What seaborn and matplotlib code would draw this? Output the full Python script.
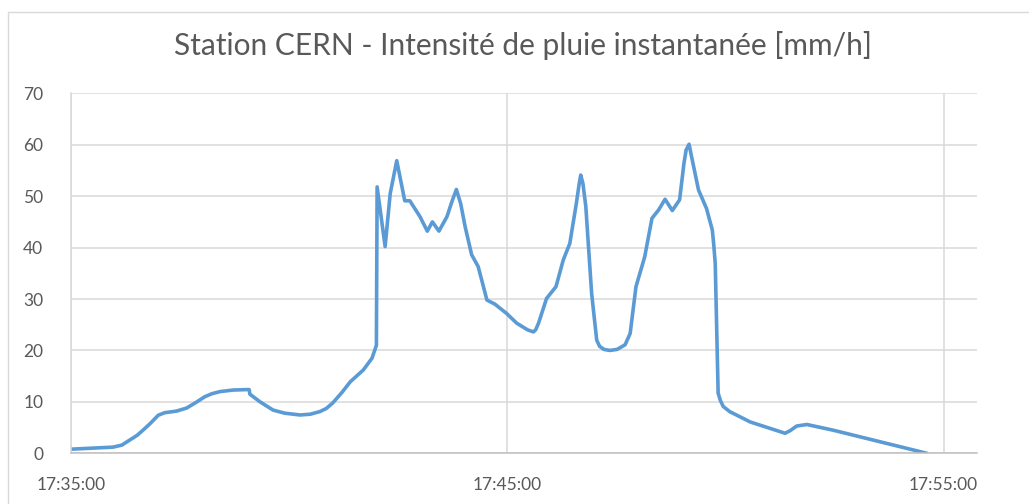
import matplotlib
matplotlib.use("Agg")
import matplotlib.pyplot as plt
import matplotlib.dates as mdates
from matplotlib.patches import Rectangle
import pandas as pd
import seaborn as sns

# Rain gauge readings, CERN station
times = [
    "17:35:00", "17:35:58", "17:36:10", "17:36:21", "17:36:31", "17:36:39",
    "17:36:49", "17:37:00", "17:37:09", "17:37:25", "17:37:39", "17:37:52",
    "17:38:04", "17:38:14", "17:38:25", "17:38:43", "17:39:05", "17:39:06",
    "17:39:20", "17:39:38", "17:39:54", "17:40:15", "17:40:29", "17:40:42",
    "17:40:51", "17:41:00", "17:41:13", "17:41:24", "17:41:42", "17:41:54",
    "17:42:00", "17:42:01", "17:42:12", "17:42:19", "17:42:28", "17:42:39",
    "17:42:46", "17:43:00", "17:43:10", "17:43:17", "17:43:26", "17:43:37",
    "17:43:44", "17:43:50", "17:43:56", "17:44:02", "17:44:11", "17:44:20",
    "17:44:32", "17:44:43", "17:44:59", "17:45:13", "17:45:28", "17:45:36",
    "17:45:39", "17:45:43", "17:45:54", "17:46:07", "17:46:17", "17:46:26",
    "17:46:35", "17:46:39", "17:46:41", "17:46:44", "17:46:48", "17:46:56",
    "17:47:03", "17:47:07", "17:47:13", "17:47:21", "17:47:31", "17:47:42",
    "17:47:49", "17:47:57", "17:48:09", "17:48:19", "17:48:28", "17:48:37",
    "17:48:47", "17:48:57", "17:49:03", "17:49:06", "17:49:10", "17:49:13",
    "17:49:23", "17:49:34", "17:49:42", "17:49:44", "17:49:46", "17:49:50",
    "17:49:53", "17:49:57", "17:50:06", "17:50:34", "17:51:22", "17:51:29",
    "17:51:38", "17:51:52", "17:52:28", "17:54:37",
]
intensity = [
    0.8, 1.2, 1.6, 2.6, 3.5, 4.5,
    5.8, 7.4, 7.9, 8.2, 8.8, 9.9,
    11.0, 11.6, 12.0, 12.3, 12.4, 11.5,
    10.0, 8.4, 7.8, 7.45, 7.6, 8.1,
    8.7, 9.8, 11.9, 13.9, 16.2, 18.5,
    21.0, 51.8, 40.2, 50.5, 56.9, 49.1,
    49.1, 46.0, 43.2, 45.0, 43.2, 46.0,
    49.0, 51.3, 48.5, 44.1, 38.6, 36.3,
    29.8, 29.0, 27.2, 25.3, 24.0, 23.6,
    24.0, 25.3, 30.1, 32.4, 37.6, 40.8,
    48.6, 52.5, 54.1, 52.5, 48.0, 31.1,
    22.0, 20.8, 20.2, 20.0, 20.2, 21.1,
    23.3, 32.4, 38.2, 45.7, 47.3, 49.4,
    47.2, 49.3, 56.4, 59.0, 60.1, 58.0,
    51.2, 47.6, 43.4, 40.5, 36.9, 11.7,
    10.3, 9.1, 8.1, 6.1, 3.9, 4.4,
    5.3, 5.6, 4.5, 0.0,
]
x_ticks = ["17:35:00", "17:45:00", "17:55:00"]
y_ticks = [0, 10, 20, 30, 40, 50, 60, 70]
title = "Station CERN - Intensité de pluie instantanée [mm/h]"

day = "2020-01-01 "
df = pd.DataFrame({
    "heure": pd.to_datetime([day + t for t in times]),
    "intensite": intensity,
})

sns.set_style("white")
plt.rcParams["font.family"] = ["Lato", "DejaVu Sans"]

fig = plt.figure(figsize=(10.29, 5.04), dpi=100)
fig.patch.set_facecolor("white")

# light frame around the chart area
fig.patches.append(Rectangle((8 / 1029, -0.1), 1.2, 1 - 12 / 504 + 0.1,
                             transform=fig.transFigure, fill=False,
                             edgecolor="#D9D9D9", linewidth=1.0))

ax = fig.add_axes([71 / 1029, 1 - 453.3 / 504, 906 / 1029, 360 / 504])

sns.lineplot(data=df, x="heure", y="intensite", ax=ax, color="#5B9BD5",
             linewidth=2.6, solid_joinstyle="round", solid_capstyle="round")

xt = pd.to_datetime([day + t for t in x_ticks])
ax.set_xlim(pd.Timestamp(day + "17:35:00"), pd.Timestamp(day + "17:55:46"))
ax.set_xticks(xt)
ax.xaxis.set_major_formatter(mdates.DateFormatter("%H:%M:%S"))
ax.set_ylim(0, 70)
ax.set_yticks(y_ticks)

ax.grid(True, color="#D9D9D9", linewidth=1.1)
ax.set_axisbelow(True)
for side in ["top", "right"]:
    ax.spines[side].set_visible(False)
ax.spines["left"].set_color("#D9D9D9")
ax.spines["left"].set_linewidth(1.1)
ax.spines["bottom"].set_color("#BFBFBF")
ax.spines["bottom"].set_linewidth(1.1)

ax.tick_params(axis="both", length=0, labelsize=12.5, labelcolor="#595959")
ax.tick_params(axis="y", pad=20)
ax.tick_params(axis="x", pad=17)
ax.set_xlabel("")
ax.set_ylabel("")

fig.text(523 / 1029, 1 - 45 / 504, title, ha="center", va="center",
         fontsize=21.5, color="#595959")

fig.savefig("out.png", dpi=100)
